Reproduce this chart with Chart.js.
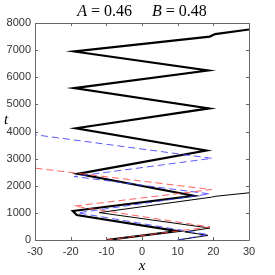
<!DOCTYPE html>
<html>
<head>
<meta charset="utf-8">
<script src="https://cdn.jsdelivr.net/npm/chart.js@4.4.1/dist/chart.umd.min.js"></script>
<style>
html,body{margin:0;padding:0;background:#fff;}
#wrap{width:275px;height:275px;position:relative;}
</style>
</head>
<body>
<div id="wrap"><canvas id="c" width="275" height="275"></canvas></div>
<script>
// ---- data ----
const xTicks = [-30, -20, -10, 0, 10, 20, 30];
const tTicks = [0, 1000, 2000, 3000, 4000, 5000, 6000, 7000, 8000];

const thickX = [-10, 10, -18.3, -19.4, 14.5, -18, 18, -18.5, 18.8, -19, 18.5, -19, 19, 20.5, 30];
const thickT = [0, 330, 920, 1070, 1630, 2440, 3300, 4120, 4850, 5600, 6250, 6950, 7500, 7590, 7760];

const thinX = [10, 18.5, 12, 19, -12, 19.5, 20.5, 30];
const thinT = [0, 170, 300, 440, 1010, 1580, 1610, 1740];

const redX = [-10, 19, -19, 19.5, -30];
const redT = [0, 480, 1250, 1860, 2650];

const blueX = [10, 18.5, -18, 19, -19, 19.6, -30];
const blueT = [0, 200, 1000, 1700, 2340, 3010, 3880];

const titleParts = [["A", true], [" = 0.46", false], ["     ", false], ["B", true], [" = 0.48", false]];
const xLabel = "x";
const yLabel = "t";

function pts(xs, ts) { return xs.map((x, i) => ({x: x, y: ts[i]})); }

const boxPlugin = {
  id: 'box',
  afterDraw(chart) {
    const ctx = chart.ctx, a = chart.chartArea;
    const sx = chart.scales.x, sy = chart.scales.y;
    ctx.save();
    ctx.strokeStyle = '#666';
    ctx.lineWidth = 1;
    ctx.beginPath();
    ctx.rect(Math.round(a.left) + 0.5, Math.round(a.top) + 0.5, Math.round(a.right - a.left), Math.round(a.bottom - a.top));
    ctx.stroke();
    ctx.beginPath();
    xTicks.forEach(v => {
      const p = Math.round(sx.getPixelForValue(v)) + 0.5;
      ctx.moveTo(p, a.bottom); ctx.lineTo(p, a.bottom - 3);
      ctx.moveTo(p, a.top); ctx.lineTo(p, a.top + 3);
    });
    tTicks.forEach(v => {
      const p = Math.round(sy.getPixelForValue(v)) + 0.5;
      ctx.moveTo(a.left, p); ctx.lineTo(a.left + 3, p);
      ctx.moveTo(a.right, p); ctx.lineTo(a.right - 3, p);
    });
    ctx.stroke();
    // title with mixed italic
    ctx.fillStyle = '#000';
    ctx.textBaseline = 'alphabetic';
    const fIt = 'italic 16px "Liberation Serif", "DejaVu Serif", serif';
    const fNo = '16px "Liberation Serif", "DejaVu Serif", serif';
    let total = 0;
    titleParts.forEach(([s, it]) => { ctx.font = it ? fIt : fNo; total += ctx.measureText(s).width; });
    let x = 142 - total / 2;
    titleParts.forEach(([s, it]) => { ctx.font = it ? fIt : fNo; ctx.fillText(s, x, 16); x += ctx.measureText(s).width; });
    // axis labels
    ctx.font = 'italic 15px "Liberation Serif", "DejaVu Serif", serif';
    ctx.textAlign = 'center';
    ctx.fillText(xLabel, (a.left + a.right) / 2, 270);
    ctx.fillText(yLabel, 6, 124);
    ctx.restore();
  }
};

const common = {pointRadius: 0, showLine: true, fill: false, tension: 0};

new Chart(document.getElementById('c'), {
  type: 'scatter',
  data: {
    datasets: [
      Object.assign({data: pts(redX, redT), borderColor: 'rgba(255,70,70,0.85)', borderWidth: 1, borderDash: [7, 4]}, common),
      Object.assign({data: pts(blueX, blueT), borderColor: 'rgba(60,60,255,0.85)', borderWidth: 1, borderDash: [7, 4]}, common),
      Object.assign({data: pts(thinX, thinT), borderColor: '#000', borderWidth: 1}, common),
      Object.assign({data: pts(thickX, thickT), borderColor: '#000', borderWidth: 2.2}, common)
    ]
  },
  options: {
    responsive: false,
    animation: false,
    events: [],
    layout: {padding: {left: 0, right: 26, top: 23, bottom: 0}},
    plugins: {legend: {display: false}, tooltip: {enabled: false}},
    scales: {
      x: {
        type: 'linear', min: -30, max: 30,
        afterBuildTicks(s) { s.ticks = xTicks.map(v => ({value: v})); },
        afterFit(s) { s.height = 35; },
        grid: {display: false, drawTicks: false},
        border: {display: false},
        ticks: {color: '#333', font: {family: '"Liberation Sans", Arial, sans-serif', size: 11}, padding: 5, maxRotation: 0,
                callback: v => String(v)}
      },
      y: {
        type: 'linear', min: 0, max: 8000,
        afterBuildTicks(s) { s.ticks = tTicks.map(v => ({value: v})); },
        afterFit(s) { s.width = 35; },
        grid: {display: false, drawTicks: false},
        border: {display: false},
        ticks: {color: '#333', font: {family: '"Liberation Sans", Arial, sans-serif', size: 11}, padding: 4,
                callback: v => String(v)}
      }
    }
  },
  plugins: [boxPlugin]
});
</script>
</body>
</html>
